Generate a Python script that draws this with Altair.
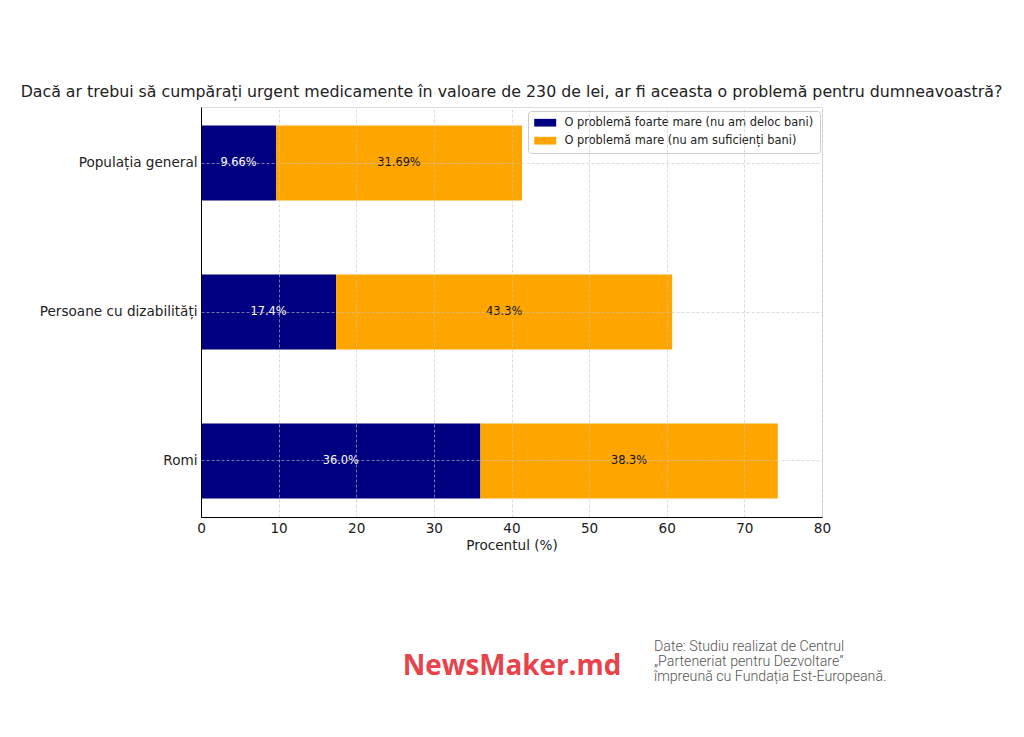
import altair as alt
import pandas as pd

# ---- data ----
groups = ["Populația general", "Persoane cu dizabilități", "Romi"]
very_big = [9.66, 17.4, 36.0]
big = [31.69, 43.3, 38.3]
very_big_labels = ["9.66%", "17.4%", "36.0%"]
big_labels = ["31.69%", "43.3%", "38.3%"]
series = ["O problemă foarte mare (nu am deloc bani)", "O problemă mare (nu am suficienți bani)"]
colors = ["#000080", "#FFA500"]
label_colors = ["white", "#111111"]
x_ticks = [0, 10, 20, 30, 40, 50, 60, 70, 80]

title_text = "Dacă ar trebui să cumpărați urgent medicamente în valoare de 230 de lei, ar fi aceasta o problemă pentru dumneavoastră?"
x_title = "Procentul (%)"
logo_text = "NewsMaker.md"
source_lines = [
    "Date: Studiu realizat de Centrul",
    "„Parteneriat pentru Dezvoltare”",
    "împreună cu Fundația Est-Europeană.",
]

rows = []
for g, a, b, la, lb in zip(groups, very_big, big, very_big_labels, big_labels):
    rows.append(dict(group=g, series=series[0], start=0.0, end=a, label=la, tcol=label_colors[0]))
    rows.append(dict(group=g, series=series[1], start=a, end=a + b, label=lb, tcol=label_colors[1]))
df = pd.DataFrame(rows)
df["mid"] = (df["start"] + df["end"]) / 2

FONT = "DejaVu Sans"
GRID_COLOR = "#c4c4c4"

y_enc = alt.Y(
    "group:N",
    sort=groups,
    title=None,
    scale=alt.Scale(paddingInner=0.497, paddingOuter=0.125),
    axis=alt.Axis(
        bandPosition=0.5,
        grid=True,
        ticks=False,
        labelPadding=4,
        labelFontSize=13.6,
        labelFont=FONT,
        labelColor="#222222",
        labelLimit=300,
        domainColor="#000000",
        domainWidth=1,
        gridColor=GRID_COLOR,
        gridDash=[3, 2],
        gridWidth=0.6,
        zindex=1,
    ),
)

bars = alt.Chart(df).mark_bar(strokeWidth=0).encode(
    x=alt.X(
        "start:Q",
        scale=alt.Scale(domain=[0, 80], nice=False, zero=True),
        title=x_title,
        axis=alt.Axis(
            values=x_ticks,
            grid=True,
            ticks=False,
            labelFlush=False,
            labelPadding=4,
            labelFontSize=13.6,
            labelFont=FONT,
            labelColor="#222222",
            titleFont=FONT,
            titleFontSize=13.6,
            titleFontWeight="normal",
            titleColor="#222222",
            titlePadding=4,
            domainColor="#000000",
            domainWidth=1,
            gridColor=GRID_COLOR,
            gridDash=[3, 2],
            gridWidth=0.6,
            zindex=1,
        ),
    ),
    x2="end:Q",
    y=y_enc,
    color=alt.Color(
        "series:N",
        scale=alt.Scale(domain=series, range=colors),
        legend=alt.Legend(
            title=None,
            orient="none",
            legendX=327,
            legendY=4,
            direction="vertical",
            symbolType="M-1,-0.7H3V0.7H-1Z",
            symbolSize=121,
            symbolStrokeWidth=0,
            symbolOpacity=1,
            labelFont=FONT,
            labelFontSize=11.4,
            labelColor="#222222",
            labelLimit=400,
            labelOffset=19,
            rowPadding=5,
            padding=6,
            fillColor="white",
            strokeColor="#cccccc",
            cornerRadius=3,
        ),
    ),
)

labels = alt.Chart(df).mark_text(font=FONT, fontSize=11.4, baseline="middle", align="center").encode(
    x=alt.X("mid:Q"),
    y=alt.Y("group:N", sort=groups),
    text="label:N",
    color=alt.Color("tcol:N", scale=None, legend=None),
)

logo = alt.Chart(pd.DataFrame({"t": [logo_text]})).mark_text(
    font="Open Sans", fontWeight="bold", fontSize=27.8, color="#e8434b", align="center", baseline="middle"
).encode(x=alt.value(311), y=alt.value(560), text="t:N")

source_layers = []
for i, line in enumerate(source_lines):
    source_layers.append(
        alt.Chart(pd.DataFrame({"t": [line]})).mark_text(
            font="Roboto", fontWeight=300, fontSize=14.2, color="#555555", align="left", baseline="middle",
        ).encode(x=alt.value(453), y=alt.value(540 + 15 * i), text="t:N")
    )

chart = alt.layer(bars, labels, logo, *source_layers).resolve_scale(color="independent").properties(
    width=621,
    height=410,
    title=alt.TitleParams(
        text=title_text,
        font=FONT,
        fontSize=15.8,
        fontWeight="normal",
        color="#222222",
        anchor="middle",
        frame="group",
        offset=6,
    ),
    autosize=alt.AutoSizeParams(type="none"),
    padding={"left": 193, "top": 99, "right": 194, "bottom": 200},
).configure_view(stroke=None).configure(background="white")

chart.save("out.html", embed_options={"renderer": "svg", "actions": False})
